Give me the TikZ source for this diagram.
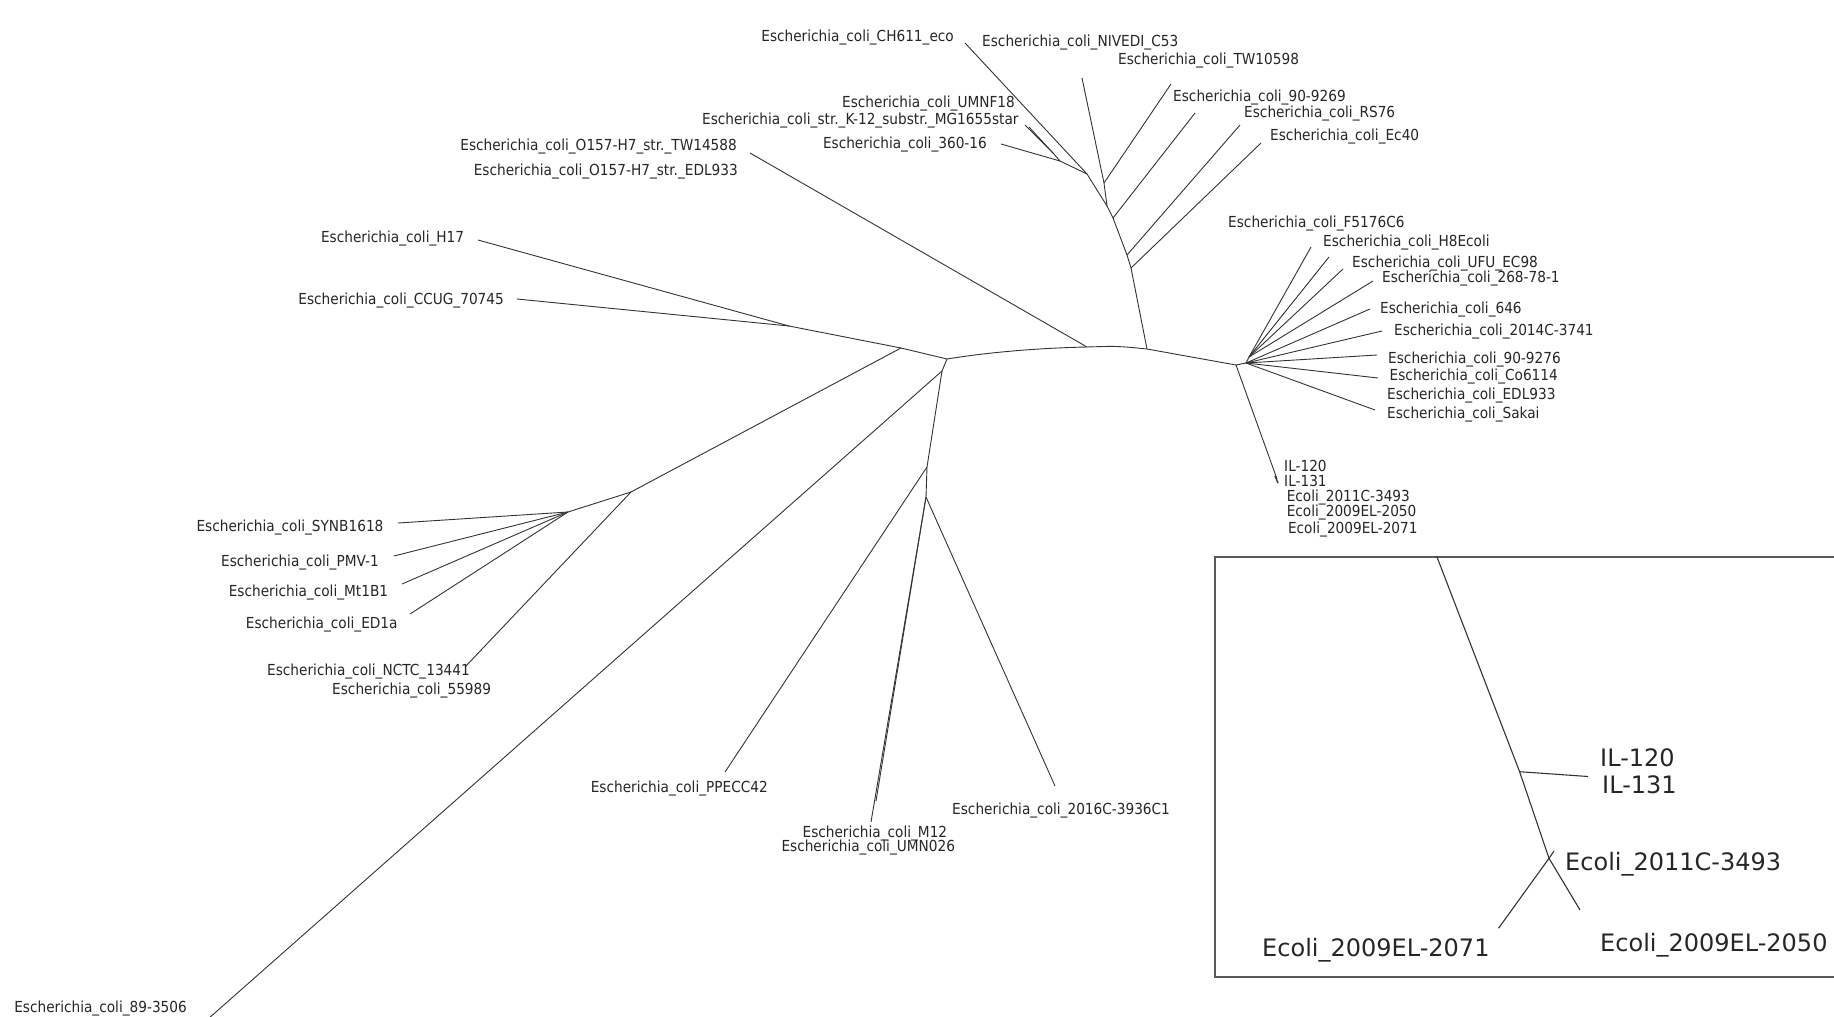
\documentclass[tikz,border=0pt]{standalone}
\usepackage{fontspec}
\setmainfont{DejaVu Sans}[FakeStretch=0.9]
\newfontfamily\insetfont{DejaVu Sans}
\begin{document}
\begin{tikzpicture}[x=1pt,y=-1pt,
  br/.style={draw=black!80,line width=0.9pt,line join=round},
  lbl/.style={inner sep=0pt,text height=11pt,text depth=0pt,font=\fontsize{15.2}{16}\selectfont,text=black!85},
  ilbl/.style={inner sep=0pt,text height=17pt,text depth=0pt,font=\insetfont\fontsize{24}{26}\selectfont,text=black!85},
  inbox/.style={draw=black!65,line width=1.3pt}]
\useasboundingbox (0,0) rectangle (1834,1017);
\clip (0,0) rectangle (1834,1017);
% internal nodes
\coordinate (A) at (1060,161);
\coordinate (K) at (1053,153);
\coordinate (B) at (1087,174);
\coordinate (N) at (1104,183);
\coordinate (C) at (1107,206);
\coordinate (D) at (1113,218);
\coordinate (E) at (1127,255);
\coordinate (G) at (1131,268);
\coordinate (M1) at (1147,349);
\coordinate (M2) at (1087,347);
\coordinate (L0) at (947,359);
\coordinate (L1) at (901,348);
\coordinate (H) at (789,326);
\coordinate (S0) at (631,492);
\coordinate (S1) at (568,512);
\coordinate (L2) at (942,371);
\coordinate (L3) at (927,467);
\coordinate (L4) at (926,497);
\coordinate (R0) at (1236,365);
\coordinate (R1) at (1246,363);
\coordinate (R2) at (1249,357);
% leaf ends
\coordinate (eCH) at (965,43);
\coordinate (eUMNF) at (1025,125);
\coordinate (eK12) at (1029,127);
\coordinate (e360) at (1001,144);
\coordinate (eNIV) at (1082,78);
\coordinate (eTW) at (1171,84);
\coordinate (e9269) at (1195,113);
\coordinate (eRS) at (1240,125);
\coordinate (eEc40) at (1261,143);
\coordinate (eO157) at (750,153);
\coordinate (eH17) at (478,240);
\coordinate (eCCUG) at (517,299);
\coordinate (eSYNB) at (398,523);
\coordinate (ePMV) at (394,556);
\coordinate (eMt) at (402,584);
\coordinate (eED1a) at (410,614);
\coordinate (eNCTC) at (465,667);
\coordinate (e8935) at (208,1019);
\coordinate (ePPE) at (725,772);
\coordinate (e2016) at (1055,786);
\coordinate (eM12) at (876,801);
\coordinate (eUMN) at (871,822);
\coordinate (eF51) at (1311,247);
\coordinate (eH8) at (1329,257);
\coordinate (eUFU) at (1343,269);
\coordinate (e268) at (1373,281);
\coordinate (e646) at (1370,309);
\coordinate (e2014) at (1382,331);
\coordinate (e9276) at (1377,355);
\coordinate (eCo) at (1378,378);
\coordinate (eSak) at (1375,410);
\coordinate (eIL) at (1277,479);
% branches
\draw[br] (K) -- (A) -- (B) -- (C) -- (D) -- (E) -- (G) -- (M1);
\draw[br] (K) -- (eUMNF);
\draw[br] (K) -- (eK12);
\draw[br] (A) -- (e360);
\draw[br] (B) -- (eCH);
\draw[br] (C) -- (N);
\draw[br] (N) -- (eNIV);
\draw[br] (N) -- (eTW);
\draw[br] (D) -- (e9269);
\draw[br] (E) -- (eRS);
\draw[br] (G) -- (eEc40);
\draw[br] (M1) .. controls (1117,346) .. (M2);
\draw[br] (M2) .. controls (1040,348) and (990,352) .. (L0);
\draw[br] (M2) -- (eO157);
\draw[br] (L0) -- (L1) -- (H);
\draw[br] (H) -- (eH17);
\draw[br] (H) -- (eCCUG);
\draw[br] (L1) -- (S0) -- (S1);
\draw[br] (S0) -- (eNCTC);
\draw[br] (S1) -- (eSYNB);
\draw[br] (S1) -- (ePMV);
\draw[br] (S1) -- (eMt);
\draw[br] (S1) -- (eED1a);
\draw[br] (L0) -- (L2) -- (L3) -- (L4);
\draw[br] (L2) -- (e8935);
\draw[br] (L3) -- (ePPE);
\draw[br] (L4) -- (e2016);
\draw[br] (L4) -- (eM12);
\draw[br] (L4) -- (eUMN);
\draw[br] (M1) -- (R0) -- (R1) -- (R2);
\draw[br] (R2) -- (eF51);
\draw[br] (R2) -- (eH8);
\draw[br] (R2) -- (eUFU);
\draw[br] (R2) -- (e268);
\draw[br] (R1) -- (e646);
\draw[br] (R1) -- (e2014);
\draw[br] (R1) -- (e9276);
\draw[br] (R1) -- (eCo);
\draw[br] (R1) -- (eSak);
\draw[br] (R0) -- (eIL);
\coordinate (tA) at (1275,476);
\coordinate (tB) at (1278,483);
\draw[br,line width=1.4pt] (tA) -- (tB);
% labels
\node[lbl,anchor=east] (lCH) at (954,36) {Escherichia\_coli\_CH611\_eco};
\node[lbl,anchor=west] (lNIV) at (982,41) {Escherichia\_coli\_NIVEDI\_C53};
\node[lbl,anchor=west] (lTW) at (1118,58.5) {Escherichia\_coli\_TW10598};
\node[lbl,anchor=west] (l9269) at (1173,96) {Escherichia\_coli\_90-9269};
\node[lbl,anchor=west] (lRS) at (1244,112) {Escherichia\_coli\_RS76};
\node[lbl,anchor=west] (lEc40) at (1270,134.5) {Escherichia\_coli\_Ec40};
\node[lbl,anchor=east] (lUMNF) at (1015,102) {Escherichia\_coli\_UMNF18};
\node[lbl,anchor=east] (lK12) at (1018.7,119.3) {Escherichia\_coli\_str.\_K-12\_substr.\_MG1655star};
\node[lbl,anchor=east] (l360) at (987,142.7) {Escherichia\_coli\_360-16};
\node[lbl,anchor=east] (lO1) at (737,145) {Escherichia\_coli\_O157-H7\_str.\_TW14588};
\node[lbl,anchor=east] (lO2) at (738,169.6) {Escherichia\_coli\_O157-H7\_str.\_EDL933};
\node[lbl,anchor=east] (lH17) at (464.3,237.4) {Escherichia\_coli\_H17};
\node[lbl,anchor=east] (lCCUG) at (504,299.4) {Escherichia\_coli\_CCUG\_70745};
\node[lbl,anchor=west] (lF51) at (1228,222) {Escherichia\_coli\_F5176C6};
\node[lbl,anchor=west] (lH8) at (1323,241) {Escherichia\_coli\_H8Ecoli};
\node[lbl,anchor=west] (lUFU) at (1352,262) {Escherichia\_coli\_UFU\_EC98};
\node[lbl,anchor=west] (l268) at (1382,277) {Escherichia\_coli\_268-78-1};
\node[lbl,anchor=west] (l646) at (1380,307.6) {Escherichia\_coli\_646};
\node[lbl,anchor=west] (l2014) at (1394,330) {Escherichia\_coli\_2014C-3741};
\node[lbl,anchor=west] (l9276) at (1388,358) {Escherichia\_coli\_90-9276};
\node[lbl,anchor=west] (lCo) at (1389.5,375.4) {Escherichia\_coli\_Co6114};
\node[lbl,anchor=west] (lEDL) at (1387,394) {Escherichia\_coli\_EDL933};
\node[lbl,anchor=west] (lSak) at (1387,413) {Escherichia\_coli\_Sakai};
\node[lbl,anchor=west] (lIL120) at (1284,465.5) {IL-120};
\node[lbl,anchor=west] (lIL131) at (1284,480.7) {IL-131};
\node[lbl,anchor=west] (lE3493) at (1286.6,496) {Ecoli\_2011C-3493};
\node[lbl,anchor=west] (lE2050) at (1286.6,511) {Ecoli\_2009EL-2050};
\node[lbl,anchor=west] (lE2071) at (1287.8,527.5) {Ecoli\_2009EL-2071};
\node[lbl,anchor=east] (lSYNB) at (383.6,526.3) {Escherichia\_coli\_SYNB1618};
\node[lbl,anchor=east] (lPMV) at (379,561.4) {Escherichia\_coli\_PMV-1};
\node[lbl,anchor=east] (lMt) at (388.3,590.6) {Escherichia\_coli\_Mt1B1};
\node[lbl,anchor=east] (lED1a) at (397.7,623.4) {Escherichia\_coli\_ED1a};
\node[lbl,anchor=east] (lNCTC) at (470,670) {Escherichia\_coli\_NCTC\_13441};
\node[lbl,anchor=west] (l5598) at (332,689) {Escherichia\_coli\_55989};
\node[lbl,anchor=west] (lPPE) at (590.6,787) {Escherichia\_coli\_PPECC42};
\node[lbl,anchor=west] (l2016) at (952,809.4) {Escherichia\_coli\_2016C-3936C1};
\node[lbl,anchor=west] (lM12) at (802.4,831.6) {Escherichia\_coli\_M12};
\node[lbl,anchor=west] (lUMN) at (781.3,845.6) {Escherichia\_coli\_UMN026};
\node[lbl,anchor=east] (l8935) at (187,1007) {Escherichia\_coli\_89-3506};
% inset
\coordinate (bx1) at (1215,557);
\coordinate (bx2) at (1845,977);
\draw[inbox] (bx1) rectangle (bx2);
\coordinate (iT) at (1437,557);
\coordinate (iIL) at (1519.6,771.7);
\coordinate (iE) at (1549,858.3);
\coordinate (i2050) at (1580,910);
\coordinate (iILe) at (1588,776.5);
\coordinate (i2071) at (1498.5,928.3);
\coordinate (i3493) at (1554,851);
\draw[br,line width=1.1pt] (iT) -- (iIL) -- (iE) -- (i2050);
\draw[br,line width=1.1pt] (iIL) -- (iILe);
\draw[br,line width=1.1pt] (iE) -- (i2071);
\draw[br,line width=1.1pt] (iE) -- (i3493);
\node[ilbl,anchor=west] (iL120) at (1600,758) {IL-120};
\node[ilbl,anchor=west] (iL131) at (1602,785) {IL-131};
\node[ilbl,anchor=west] (iL3493) at (1565,862) {Ecoli\_2011C-3493};
\node[ilbl,anchor=west] (iL2050) at (1600,943) {Ecoli\_2009EL-2050};
\node[ilbl,anchor=west] (iL2071) at (1262,948) {Ecoli\_2009EL-2071};
\end{tikzpicture}
\end{document}
